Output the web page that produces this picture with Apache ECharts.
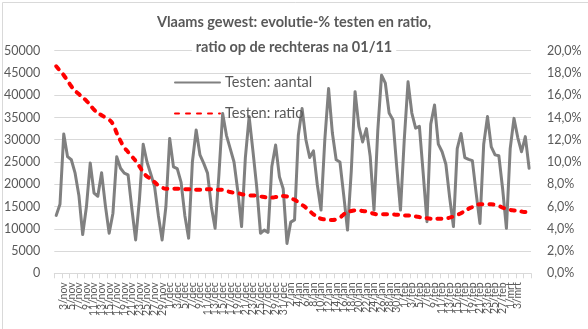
<!DOCTYPE html>
<html>
<head>
<meta charset="utf-8">
<script src="https://cdn.jsdelivr.net/npm/echarts@6/dist/echarts.min.js"></script>
<style>
html,body{margin:0;padding:0;background:#fff;}
#c{width:588px;height:329px;}
</style>
</head>
<body>
<div id="c"></div>
<script>
// Months for category labels (name, days) starting 1 Nov
var months = [['nov', 30], ['dec', 31], ['jan', 31], ['feb', 28], ['mrt', 31]];
var dayCount = 126;

// Testen: aantal (daily number of tests)
var testenAantal = [
  13000, 15500, 31300, 26200, 25500, 22500, 17500, 8700, 15000, 24800,
  18000, 17300, 22600, 15200, 9000, 13500, 26200, 23600, 22500, 22100,
  14500, 7500, 16500, 29000, 25000, 22300, 19500, 13000, 7500, 15000,
  30300, 23900, 23500, 20500, 13000, 7900, 25000, 32200, 26600, 24700,
  22500, 15000, 10100, 22000, 35900, 31000, 28000, 25000, 18500, 10500,
  26000, 35200, 27500, 19400, 9000, 9700, 9200, 24000, 28800, 21700,
  19000, 6700, 11500, 12000, 31000, 37000, 30000, 26000, 27500, 20000,
  14200, 30000, 41500, 31500, 25500, 25000, 17500, 9700, 23000, 40800,
  33000, 29500, 32500, 26200, 14200, 32000, 44500, 42700, 36000, 34500,
  24000, 14200, 30000, 43000, 36000, 32600, 33000, 22500, 11600, 33500,
  37800, 29000, 27300, 24500, 17000, 10500, 28000, 31400, 26000, 25600,
  25300, 18000, 11200, 29000, 35200, 28400, 26600, 26400, 19000, 10100,
  28000, 34800, 30500, 27300, 30700, 23600
];

// Testen: ratio (percent, right axis)
var testenRatio = [
  18.6, 18.2, 17.8, 17.3, 16.8, 16.4, 16.1, 15.8, 15.5, 15.1,
  14.7, 14.4, 14.2, 14.0, 13.8, 13.4, 12.6, 11.9, 11.3, 10.9,
  10.5, 10.1, 9.6, 9.1, 8.7, 8.5, 8.2, 7.9, 7.7, 7.6,
  7.6, 7.6, 7.6, 7.6, 7.55, 7.55, 7.5, 7.5, 7.5, 7.5,
  7.55, 7.55, 7.55, 7.5, 7.5, 7.4, 7.3, 7.25, 7.2, 7.1,
  7.05, 7.0, 7.0, 6.95, 6.9, 6.85, 6.8, 6.8, 6.85, 6.9,
  6.95, 6.9, 6.75, 6.6, 6.4, 6.15, 5.9, 5.6, 5.3, 5.1,
  4.9, 4.85, 4.8, 4.8, 4.85, 5.0, 5.3, 5.5, 5.6, 5.65,
  5.65, 5.6, 5.55, 5.45, 5.35, 5.3, 5.3, 5.3, 5.3, 5.3,
  5.25, 5.25, 5.2, 5.2, 5.15, 5.1, 5.05, 5.0, 4.95, 4.9,
  4.85, 4.9, 4.9, 4.95, 5.0, 5.1, 5.25, 5.4, 5.6, 5.8,
  5.95, 6.1, 6.2, 6.2, 6.2, 6.2, 6.15, 6.05, 5.9, 5.8,
  5.7, 5.65, 5.6, 5.55, 5.5, 5.5
];

var leftTicks = {min: 0, max: 50000, interval: 5000};
var rightTicks = {min: 0, max: 20, interval: 2};

var categories = [];
(function () {
  var m = 0, d = 1;
  for (var i = 0; i < dayCount; i++) {
    categories.push(d + '/' + months[m][0]);
    d++;
    if (d > months[m][1]) { d = 1; m++; }
  }
})();

var FONT = 'Lato, "Open Sans", "Liberation Sans", sans-serif';
var TXT = '#595959';

var chart = echarts.init(document.getElementById('c'), null, {renderer: 'canvas'});
chart.setOption({
  animation: false,
  backgroundColor: '#fff',
  textStyle: {fontFamily: FONT},
  title: [
    {
      text: 'Vlaams gewest: evolutie-% testen en ratio,',
      left: 'center', top: 15, padding: 0,
      textStyle: {fontFamily: FONT, fontSize: 14.5, fontWeight: 'bold', color: TXT}
    },
    {
      text: 'ratio op de rechteras na 01/11',
      left: 'center', top: 40, padding: [0, 4],
      backgroundColor: '#fff',
      textStyle: {fontFamily: FONT, fontSize: 14.5, fontWeight: 'bold', color: TXT}
    }
  ],
  legend: {
    orient: 'vertical',
    left: 169, top: 70,
    itemWidth: 45, itemHeight: 14, itemGap: 16,
    itemStyle: {opacity: 0},
    textStyle: {fontFamily: FONT, fontSize: 14.5, color: TXT},
    data: ['Testen: aantal', 'Testen: ratio']
  },
  grid: {left: 54.3, right: 57, top: 50.7, bottom: 55.7, containLabel: false},
  xAxis: {
    type: 'category',
    data: categories,
    boundaryGap: true,
    axisLine: {show: true, lineStyle: {color: '#D9D9D9', width: 1}},
    axisTick: {show: true, interval: 1, length: 5, lineStyle: {color: '#D9D9D9'}},
    axisLabel: {interval: 1, rotate: 90, margin: 9, fontSize: 10.5, color: TXT, fontFamily: FONT, hideOverlap: false},
    splitLine: {show: false}
  },
  yAxis: [
    {
      type: 'value', min: leftTicks.min, max: leftTicks.max, interval: leftTicks.interval,
      axisLine: {show: false}, axisTick: {show: false},
      axisLabel: {margin: 14, fontSize: 12.5, color: TXT, fontFamily: FONT,
        formatter: function (v) { return String(v); }},
      splitLine: {show: true, lineStyle: {color: '#D9D9D9', width: 1}}
    },
    {
      type: 'value', min: rightTicks.min, max: rightTicks.max, interval: rightTicks.interval,
      position: 'right',
      axisLine: {show: false}, axisTick: {show: false},
      axisLabel: {
        margin: 16, fontSize: 12.5, color: TXT, fontFamily: FONT,
        formatter: function (v) { return v.toFixed(1).replace('.', ',') + '%'; }
      },
      splitLine: {show: false}
    }
  ],
  series: [
    {
      name: 'Testen: aantal', type: 'line', yAxisIndex: 0,
      data: testenAantal, symbol: 'none', smooth: false,
      lineStyle: {color: '#808080', width: 3, join: 'round', cap: 'round'},
      itemStyle: {color: '#808080'}, z: 2
    },
    {
      name: 'Testen: ratio', type: 'line', yAxisIndex: 1,
      data: testenRatio, symbol: 'none', smooth: true,
      lineStyle: {color: '#FF0000', width: 4, type: [4, 7], cap: 'round'},
      itemStyle: {color: '#FF0000'}, z: 3
    }
  ],
  graphic: [{
    type: 'rect', left: 0, top: 0, z: -10, silent: true,
    shape: {x: 0.5, y: 0.5, width: 587, height: 328},
    style: {fill: 'none', stroke: '#D9D9D9', lineWidth: 1}
  }]
});
</script>
</body>
</html>
